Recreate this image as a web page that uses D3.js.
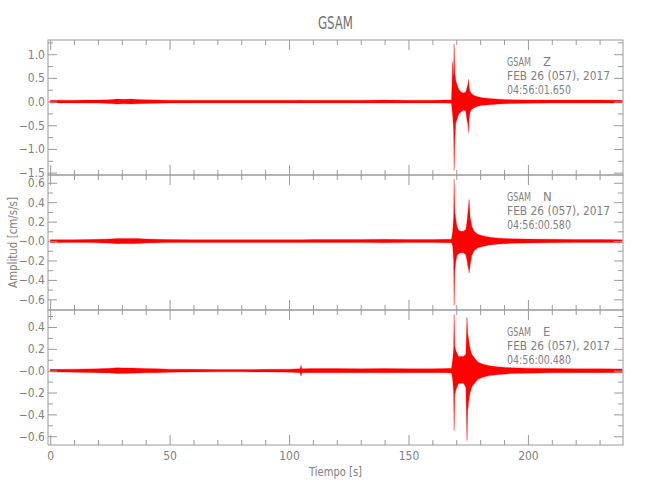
<!DOCTYPE html>
<html><head><meta charset="utf-8">
<script src="https://cdn.jsdelivr.net/npm/d3@7"></script>
<style>
body{margin:0;background:#fff}
text{font-family:"DejaVu Sans","Liberation Sans",sans-serif;font-stretch:condensed;fill:#808080}
</style></head>
<body><svg id="c" width="650" height="500"></svg>
<script>
// ---- data ----
const stationTitle = "GSAM";
const components = ["Z", "N", "E"];
const dateLine = "FEB 26 (057), 2017";
const startTimes = ["04:56:01.650", "04:56:00.580", "04:56:00.480"];

const xTicks = [0, 50, 100, 150, 200];
const xMinorTicks = [10,20,30,40,60,70,80,90,110,120,130,140,160,170,180,190,210,220,230];
const xDomain = [-0.9, 239.8];

const yDomainZ = [-1.55, 1.30];
const yDomainN = [-0.71, 0.68];
const yDomainE = [-0.68, 0.555];
const yTicksZ = [1.0, 0.5, 0.0, -0.5, -1.0, -1.5];
const yLabelsZ = ["1.0", "0.5", "0.0", "\u22120.5", "\u22121.0", "\u22121.5"];
const yTicksN = [0.6, 0.4, 0.2, 0.0, -0.2, -0.4, -0.6];
const yLabelsN = ["0.6", "0.4", "0.2", "\u22120.0", "\u22120.2", "\u22120.4", "\u22120.6"];
const yTicksE = [0.4, 0.2, 0.0, -0.2, -0.4, -0.6];
const yLabelsE = ["0.4", "0.2", "\u22120.0", "\u22120.2", "\u22120.4", "\u22120.6"];
const yMinorZ = [1.25, 0.75, 0.25, -0.25, -0.75, -1.25];
const yMinorN = [0.5, 0.3, 0.1, -0.1, -0.3, -0.5];
const yMinorE = [0.5, 0.3, 0.1, -0.1, -0.3, -0.5];

// envelope of each trace (time in s, upper and lower amplitude in cm/s/s)
const times = [0,5,10,15,20,25,28,31,34,37,40,45,50,60,70,80,90,100,104.6,105,105.4,110,120,130,140,150,160,165,168,168.5,168.9,169.1,169.4,169.8,170.3,171,172,173,174,174.5,174.8,175.1,175.4,175.8,176.5,177.5,179,181,184,188,193,200,210,220,230,239.5];

const hiZ = [0.028,0.028,0.028,0.032,0.032,0.04,0.052,0.047,0.052,0.044,0.04,0.035,0.03,0.028,0.028,0.028,0.028,0.028,0.028,0.032,0.028,0.028,0.028,0.028,0.032,0.028,0.028,0.032,0.035,0.85,0.5,1.22,0.6,0.45,0.36,0.26,0.2,0.18,0.2,0.3,0.35,0.47,0.3,0.22,0.16,0.13,0.1,0.08,0.065,0.05,0.04,0.035,0.032,0.032,0.032,0.028];
const loZ = [-0.028,-0.028,-0.028,-0.032,-0.032,-0.04,-0.052,-0.047,-0.052,-0.044,-0.04,-0.035,-0.03,-0.028,-0.028,-0.028,-0.028,-0.028,-0.028,-0.032,-0.028,-0.028,-0.028,-0.028,-0.032,-0.028,-0.028,-0.032,-0.035,-0.3,-0.6,-1.46,-0.8,-0.45,-0.38,-0.26,-0.22,-0.18,-0.2,-0.4,-0.45,-0.65,-0.35,-0.22,-0.16,-0.13,-0.1,-0.08,-0.065,-0.05,-0.04,-0.035,-0.032,-0.032,-0.032,-0.028];

const hiN = [0.014,0.014,0.014,0.016,0.018,0.022,0.027,0.025,0.027,0.026,0.02,0.018,0.016,0.014,0.014,0.014,0.014,0.014,0.014,0.014,0.014,0.016,0.016,0.016,0.018,0.016,0.016,0.018,0.018,0.1,0.25,0.636,0.3,0.23,0.15,0.11,0.1,0.1,0.12,0.2,0.28,0.35,0.43,0.25,0.15,0.1,0.07,0.055,0.04,0.03,0.024,0.02,0.018,0.016,0.016,0.014];
const loN = [-0.014,-0.014,-0.014,-0.016,-0.018,-0.022,-0.027,-0.025,-0.027,-0.026,-0.02,-0.018,-0.016,-0.014,-0.014,-0.014,-0.014,-0.014,-0.014,-0.014,-0.014,-0.016,-0.016,-0.016,-0.018,-0.016,-0.016,-0.018,-0.018,-0.05,-0.2,-0.66,-0.3,-0.21,-0.15,-0.13,-0.12,-0.12,-0.14,-0.2,-0.25,-0.28,-0.33,-0.25,-0.15,-0.1,-0.07,-0.055,-0.04,-0.03,-0.024,-0.02,-0.018,-0.016,-0.016,-0.014];

const hiE = [0.012,0.012,0.014,0.016,0.018,0.021,0.027,0.025,0.024,0.022,0.019,0.018,0.014,0.012,0.011,0.011,0.012,0.014,0.018,0.05,0.018,0.019,0.019,0.018,0.019,0.018,0.018,0.019,0.021,0.1,0.2,0.518,0.22,0.19,0.16,0.13,0.13,0.13,0.15,0.49,0.34,0.3,0.25,0.2,0.15,0.12,0.08,0.06,0.045,0.034,0.027,0.023,0.02,0.018,0.018,0.016];
const loE = [-0.012,-0.012,-0.014,-0.016,-0.018,-0.021,-0.027,-0.025,-0.024,-0.022,-0.019,-0.018,-0.014,-0.012,-0.011,-0.011,-0.012,-0.014,-0.018,-0.05,-0.018,-0.019,-0.019,-0.018,-0.019,-0.018,-0.018,-0.019,-0.021,-0.08,-0.2,-0.548,-0.22,-0.18,-0.15,-0.115,-0.115,-0.115,-0.15,-0.64,-0.36,-0.3,-0.25,-0.2,-0.15,-0.12,-0.08,-0.06,-0.045,-0.034,-0.027,-0.023,-0.02,-0.018,-0.018,-0.016];

// ---- drawing ----
const svg = d3.select("#c");
const left = 48, right = 623;
const panelTops = [40, 175, 310], panelH = 135;
const lineCol = "#9a9a9a";

const x = d3.scaleLinear().domain(xDomain).range([left, right]);

const panels = [
  {dom: yDomainZ, ticks: yTicksZ, labels: yLabelsZ, minor: yMinorZ, hi: hiZ, lo: loZ},
  {dom: yDomainN, ticks: yTicksN, labels: yLabelsN, minor: yMinorN, hi: hiN, lo: loN},
  {dom: yDomainE, ticks: yTicksE, labels: yLabelsE, minor: yMinorE, hi: hiE, lo: loE}
];

svg.append("text").attr("x", (left+right)/2).attr("y", 29).attr("text-anchor","middle")
  .attr("textLength", 35).attr("lengthAdjust","spacingAndGlyphs")
  .style("font-size","17px").style("fill","#707070").text(stationTitle);

function styleAxis(g){
  g.select(".domain").remove();
  g.selectAll("line").attr("stroke", lineCol);
  g.selectAll("text").style("font-size","12px").style("fill","#808080").style("font-family",null);
}

panels.forEach((p, i) => {
  const top = panelTops[i], bot = top + panelH;
  const y = d3.scaleLinear().domain(p.dom).range([bot, top]);
  const g = svg.append("g");

  // trace envelope
  const data = times.map((t, k) => ({t, hi: p.hi[k], lo: p.lo[k]}));
  const area = d3.area().x(d => x(d.t)).y0(d => y(d.lo)).y1(d => y(d.hi));
  g.append("path").datum(data).attr("d", area)
    .attr("fill", "#ff0000").attr("stroke", "#ff0000").attr("stroke-width", 0.3);

  // frame
  g.append("rect").attr("x", left).attr("y", top).attr("width", right-left).attr("height", panelH)
    .attr("fill","none").attr("stroke", lineCol).attr("stroke-width", 1);

  // y axes
  const labelMap = new Map(p.ticks.map((v, k) => [v, p.labels[k]]));
  g.append("g").attr("transform", `translate(${left},0)`)
    .call(d3.axisLeft(y).tickValues(p.ticks).tickSize(-9).tickSizeOuter(0).tickPadding(3)
      .tickFormat(v => labelMap.get(v))).call(styleAxis);
  g.append("g").attr("transform", `translate(${left},0)`)
    .call(d3.axisLeft(y).tickValues(p.minor).tickSize(-5).tickSizeOuter(0).tickFormat("")).call(styleAxis);
  g.append("g").attr("transform", `translate(${right},0)`)
    .call(d3.axisRight(y).tickValues(p.ticks).tickSize(-9).tickSizeOuter(0).tickFormat("")).call(styleAxis);
  g.append("g").attr("transform", `translate(${right},0)`)
    .call(d3.axisRight(y).tickValues(p.minor).tickSize(-5).tickSizeOuter(0).tickFormat("")).call(styleAxis);

  // x axes (top & bottom, inward ticks)
  const isLast = i === panels.length - 1;
  g.append("g").attr("transform", `translate(0,${bot})`)
    .call(d3.axisBottom(x).tickValues(xTicks).tickSize(-10).tickSizeOuter(0).tickPadding(6)
      .tickFormat(isLast ? d3.format("d") : () => "")).call(styleAxis);
  g.append("g").attr("transform", `translate(0,${bot})`)
    .call(d3.axisBottom(x).tickValues(xMinorTicks).tickSize(-5).tickSizeOuter(0).tickFormat("")).call(styleAxis);
  g.append("g").attr("transform", `translate(0,${top})`)
    .call(d3.axisTop(x).tickValues(xTicks).tickSize(-10).tickSizeOuter(0).tickFormat("")).call(styleAxis);
  g.append("g").attr("transform", `translate(0,${top})`)
    .call(d3.axisTop(x).tickValues(xMinorTicks).tickSize(-5).tickSizeOuter(0).tickFormat("")).call(styleAxis);

  // annotation
  g.append("text").attr("x", 507).attr("y", top + 26).style("font-size","13px")
    .attr("textLength", 24).attr("lengthAdjust","spacingAndGlyphs").text(stationTitle);
  g.append("text").attr("x", 543).attr("y", top + 26).style("font-size","13px").text(components[i]);
  g.append("text").attr("x", 507).attr("y", top + 40).style("font-size","13px")
    .attr("textLength", 103).attr("lengthAdjust","spacingAndGlyphs").text(dateLine);
  g.append("text").attr("x", 507).attr("y", top + 54).style("font-size","13px")
    .attr("textLength", 64).attr("lengthAdjust","spacingAndGlyphs").text(startTimes[i]);
});

svg.append("text").attr("x", (left+right)/2).attr("y", 476).attr("text-anchor","middle")
  .attr("textLength", 53).attr("lengthAdjust","spacingAndGlyphs")
  .style("font-size","13px").text("Tiempo [s]");
svg.append("text").attr("transform", `translate(17,${(40+445)/2}) rotate(-90)`).attr("text-anchor","middle")
  .attr("textLength", 91).attr("lengthAdjust","spacingAndGlyphs")
  .style("font-size","13px").text("Amplitud [cm/s/s]");
</script></body></html>
